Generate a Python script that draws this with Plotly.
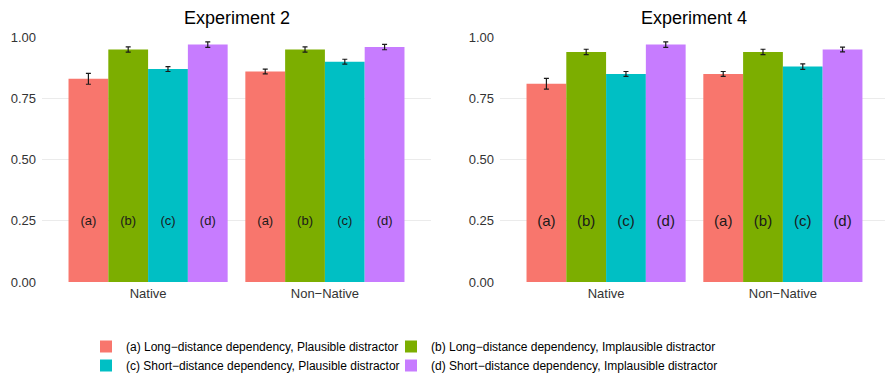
import plotly.graph_objects as go

groups = ["Native", "Non\u2212Native"]
conditions = [
    "(a) Long\u2212distance dependency, Plausible distractor",
    "(b) Long\u2212distance dependency, Implausible distractor",
    "(c) Short\u2212distance dependency, Plausible distractor",
    "(d) Short\u2212distance dependency, Implausible distractor",
]
short_labels = ["(a)", "(b)", "(c)", "(d)"]
colors = ["#F8766D", "#7CAE00", "#00BFC4", "#C77CFF"]
legend_column = ["legend", "legend2", "legend", "legend2"]

exp2_values = [[0.83, 0.86], [0.95, 0.95], [0.87, 0.90], [0.97, 0.96]]
exp2_errors = [[0.022, 0.010], [0.011, 0.011], [0.010, 0.010], [0.011, 0.011]]
exp4_values = [[0.81, 0.85], [0.94, 0.94], [0.85, 0.88], [0.97, 0.95]]
exp4_errors = [[0.022, 0.010], [0.011, 0.011], [0.010, 0.011], [0.011, 0.010]]

titles = ["Experiment 2", "Experiment 4"]
label_height = 0.5  # invisible bar whose centre puts the label at 0.25

FONT = "Liberation Sans, Arial, Helvetica, sans-serif"
W, H = 885, 374

fig = go.Figure()

panels = [
    (exp2_values, exp2_errors, "x", "y", 13),
    (exp4_values, exp4_errors, "x2", "y2", 15),
]
for p, (vals, errs, xa, ya, lab_size) in enumerate(panels):
    for i in range(4):
        fig.add_trace(go.Bar(
            x=groups, y=vals[i], name=conditions[i],
            marker=dict(color=colors[i], line=dict(width=0)),
            error_y=dict(type="data", array=errs[i], color="#1a1a1a",
                         thickness=1.2, width=2.5),
            offsetgroup=str(i), xaxis=xa, yaxis=ya,
            showlegend=(p == 0), legendgroup=str(i), legend=legend_column[i],
        ))
        fig.add_trace(go.Bar(
            x=groups, y=[label_height] * len(groups),
            marker=dict(color="rgba(0,0,0,0)", line=dict(width=0)),
            text=[short_labels[i]] * len(groups),
            textposition="inside", insidetextanchor="middle",
            textangle=0,
            textfont=dict(family=FONT, size=lab_size, color="#1a1a1a"),
            offsetgroup=str(i), xaxis=xa, yaxis=ya,
            showlegend=False, hoverinfo="skip",
        ))

left_dom = [42 / W, 431 / W]
right_dom = [500 / W, 1.0]
ydom = [1 - 282 / H, 1 - 37 / H]

axis_common = dict(showgrid=False, zeroline=False, showline=False, ticks="",
                   tickfont=dict(family=FONT, size=13, color="#333333"),
                   ticklabelstandoff=2, automargin=False)
yaxis_common = dict(range=[0, 1.001], tickvals=[0, 0.25, 0.5, 0.75, 1.0],
                    ticktext=["0.00", "0.25", "0.50", "0.75", "1.00"],
                    showgrid=True, gridcolor="#EBEBEB", gridwidth=1.1,
                    zeroline=False, showline=False, ticks="",
                    tickfont=dict(family=FONT, size=13, color="#333333"),
                    ticklabelstandoff=5, domain=ydom, automargin=False)

legend_common = dict(orientation="v", xanchor="left", yanchor="top",
                     y=1 - 332 / H, itemwidth=30, tracegroupgap=3,
                     font=dict(family=FONT, size=12, color="black"),
                     bgcolor="rgba(0,0,0,0)", traceorder="normal")

fig.update_layout(
    width=W, height=H,
    margin=dict(l=0, r=0, t=0, b=0, autoexpand=False),
    paper_bgcolor="white", plot_bgcolor="white",
    barmode="group", bargap=0.1, bargroupgap=0,
    font=dict(family=FONT, size=12, color="black"),
    xaxis=dict(domain=left_dom, range=[-0.6, 1.6], anchor="y", **axis_common),
    xaxis2=dict(domain=right_dom, range=[-0.6, -0.6 + 385 / 176.8], anchor="y2", **axis_common),
    yaxis=dict(anchor="x", **yaxis_common),
    yaxis2=dict(anchor="x2", **yaxis_common),
    legend=dict(x=86 / W, **legend_common),
    legend2=dict(x=391 / W, **legend_common),
    showlegend=True,
)

title_x = [(42 + 431) / 2 / W, (500 + 176.8 * 1.1) / W]
for p, title in enumerate(titles):
    fig.add_annotation(text=title, x=title_x[p],
                       y=1 - 18 / H, xref="paper", yref="paper",
                       showarrow=False, xanchor="center", yanchor="middle",
                       font=dict(family=FONT, size=18, color="black"))

fig.write_html("out.html", config={"displayModeBar": False},
               post_script="document.body.style.margin='0px';")
